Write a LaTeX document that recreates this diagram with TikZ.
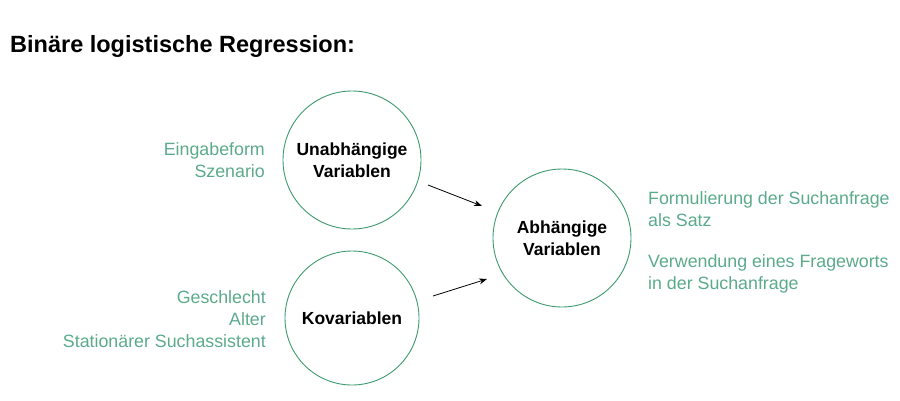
\documentclass[tikz,border=0pt]{standalone}
\usepackage{fontspec}
\usetikzlibrary{arrows.meta}
\setmainfont{Liberation Sans}
\definecolor{grn}{HTML}{5BAA8C}
\definecolor{circ}{HTML}{3E9A6E}
\begin{document}
\begin{tikzpicture}[x=1pt,y=-1pt,
  circ/.style={draw=circ,line width=0.9pt,circle,minimum size=138pt,inner sep=0pt,align=center,font=\fontsize{17.5}{22}\selectfont\bfseries},
  lbl/.style={text=grn,font=\fontsize{17.8}{22}\selectfont,inner sep=0pt},
  arr/.style={-{Stealth[length=8pt,width=6pt]},line width=0.8pt}]
\useasboundingbox (0,0) rectangle (900,400);
\node[anchor=west,font=\fontsize{23.5}{28}\selectfont\bfseries,inner sep=0pt] (title) at (10,46) {Binäre logistische Regression:};
\node[circ] (u) at (352,160) {Unabhängige\\Variablen};
\node[circ,minimum size=134pt] (k) at (352,318) {Kovariablen};
\node[circ] (a) at (562,238) {Abhängige\\Variablen};
\node[lbl,anchor=east,align=right] (ul) at (265,160) {Eingabeform\\Szenario};
\node[lbl,anchor=east,align=right] (kl) at (266,319) {Geschlecht\\Alter\\Stationärer Suchassistent};
\node[lbl,anchor=west,align=left] (al1) at (648,209) {Formulierung der Suchanfrage\\als Satz};
\node[lbl,anchor=west,align=left] (al2) at (648,274) {Verwendung eines Frageworts\\in der Suchanfrage};
\coordinate (u1) at (428,185); \coordinate (u2) at (482,206);
\coordinate (k1) at (433,296); \coordinate (k2) at (487,279);
\draw[arr] (u1) -- (u2);
\draw[arr] (k1) -- (k2);
\end{tikzpicture}
\end{document}
